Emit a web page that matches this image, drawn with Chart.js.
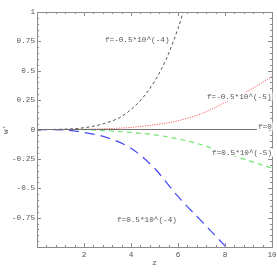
<!DOCTYPE html>
<html>
<head>
<meta charset="utf-8">
<script src="https://cdn.jsdelivr.net/npm/chart.js@4/dist/chart.umd.min.js"></script>
<style>
html,body{margin:0;padding:0;background:#fff;}
#wrap{width:277px;height:277px;}
</style>
</head>
<body>
<div id="wrap"><canvas id="c" width="277" height="277"></canvas></div>
<script>
// Data
const zBlack = [0, 0.5, 1, 1.5, 2, 2.5, 3, 3.5, 4, 4.5, 5, 5.5, 6, 6.3];
const wBlack = [0, 0, 0.002, 0.006, 0.015, 0.032, 0.06, 0.10, 0.17, 0.27, 0.41, 0.60, 0.86, 1.05];

const zRed = [0, 1, 2, 3, 4, 5, 6, 7, 8, 9, 10];
const wRed = [0, 0.0005, 0.002, 0.007, 0.018, 0.04, 0.075, 0.135, 0.23, 0.33, 0.45];

const zGreen = [0, 1, 2, 3, 4, 5, 6, 7, 8, 9, 10];
const wGreen = [0, 0, -0.002, -0.01, -0.025, -0.045, -0.08, -0.13, -0.2, -0.265, -0.33];

const zBlue = [0, 1, 2, 3, 4, 5, 6, 7, 8, 8.5];
const wBlue = [0, -0.003, -0.025, -0.07, -0.16, -0.33, -0.57, -0.78, -0.99, -1.09];

const zZero = [0, 10];
const wZero = [0, 0];

const xTickLabels = ["2", "4", "6", "8", "10"];
const xTickValues = [2, 4, 6, 8, 10];
const yTickLabels = ["1", "0.75", "0.5", "0.25", "0", "-0.25", "-0.5", "-0.75"];
const yTickValues = [1, 0.75, 0.5, 0.25, 0, -0.25, -0.5, -0.75];

const curveLabels = ["f=-0.5*10^(-4)", "f=-0.5*10^(-5)", "f=0", "f=0.5*10^(-5)", "f=0.5*10^(-4)"];

const xTitle = "z";
const yTitle = "w'";

function pts(xs, ys) { return xs.map((x, i) => ({x: x, y: ys[i]})); }

const MONO = "'Liberation Mono', 'DejaVu Sans Mono', monospace";

const framePlugin = {
  id: 'frame',
  afterDatasetsDraw(chart) {
    const ctx = chart.ctx;
    const a = chart.chartArea;
    const xs = chart.scales.x, ys = chart.scales.y;
    ctx.save();
    // frame
    ctx.strokeStyle = '#8a8a8a';
    ctx.lineWidth = 1;
    ctx.strokeRect(Math.round(a.left) + 0.5, Math.round(a.top) + 0.5,
                   Math.round(a.right - a.left), Math.round(a.bottom - a.top));
    // ticks
    ctx.beginPath();
    for (let i = 0; i <= 25; i++) {
      const v = i * 0.4;
      const px = Math.round(xs.getPixelForValue(v)) + 0.5;
      const L = (i % 5 === 0) ? 4 : 2;
      ctx.moveTo(px, a.bottom); ctx.lineTo(px, a.bottom - L);
      ctx.moveTo(px, a.top); ctx.lineTo(px, a.top + L);
    }
    for (let i = 0; i <= 40; i++) {
      const v = -1 + i * 0.05;
      const py = Math.round(ys.getPixelForValue(v)) + 0.5;
      const L = (i % 5 === 0) ? 4 : 2;
      ctx.moveTo(a.left, py); ctx.lineTo(a.left + L, py);
      ctx.moveTo(a.right, py); ctx.lineTo(a.right - L, py);
    }
    ctx.stroke();
    // tick labels
    ctx.fillStyle = '#555';
    ctx.font = '7.7px ' + MONO;
    ctx.textAlign = 'center';
    ctx.textBaseline = 'top';
    xTickValues.forEach((v, i) => {
      ctx.fillText(xTickLabels[i], xs.getPixelForValue(v), a.bottom + 4);
    });
    ctx.textAlign = 'right';
    ctx.textBaseline = 'middle';
    yTickValues.forEach((v, i) => {
      ctx.fillText(yTickLabels[i], a.left - 2, ys.getPixelForValue(v));
    });
    // axis titles
    ctx.textAlign = 'center';
    ctx.textBaseline = 'middle';
    ctx.fillText(xTitle, (a.left + a.right) / 2, a.bottom + 16);
    ctx.save();
    ctx.translate(6, ys.getPixelForValue(0));
    ctx.rotate(-Math.PI / 2);
    ctx.fillText(yTitle, 0, 0);
    ctx.restore();
    // curve labels
    const anchors = [[2.89, 0.766], [7.23, 0.28], [9.4, 0.025], [7.45, -0.196], [3.4, -0.766]];
    ctx.textAlign = 'left';
    ctx.textBaseline = 'middle';
    curveLabels.forEach((t, i) => {
      ctx.fillStyle = '#fff';
      const w = ctx.measureText(t).width;
      const px = xs.getPixelForValue(anchors[i][0]);
      const py = ys.getPixelForValue(anchors[i][1]);
      ctx.fillRect(px - 1, py - 4, w + 2, 8);
      ctx.fillStyle = '#555';
      ctx.fillText(t, px, py);
    });
    ctx.restore();
  }
};

new Chart(document.getElementById('c'), {
  type: 'scatter',
  data: {
    datasets: [
      {data: pts(zZero, wZero), borderColor: '#707070', borderWidth: 1, showLine: true, pointRadius: 0},
      {data: pts(zGreen, wGreen), borderColor: '#70e870', borderWidth: 1.2, borderDash: [5, 4], showLine: true, pointRadius: 0, cubicInterpolationMode: 'monotone'},
      {data: pts(zRed, wRed), borderColor: '#f56060', borderWidth: 1, borderDash: [1.2, 1.2], showLine: true, pointRadius: 0, cubicInterpolationMode: 'monotone'},
      {data: pts(zBlue, wBlue), borderColor: '#4646f5', borderWidth: 1.2, borderDash: [10, 6], showLine: true, pointRadius: 0, cubicInterpolationMode: 'monotone'},
      {data: pts(zBlack, wBlack), borderColor: '#555', borderWidth: 1, borderDash: [3, 2.5], showLine: true, pointRadius: 0, cubicInterpolationMode: 'monotone'}
    ]
  },
  options: {
    responsive: false,
    animation: false,
    devicePixelRatio: 1,
    layout: {padding: {left: 37, top: 12, right: 5, bottom: 30}},
    plugins: {legend: {display: false}, tooltip: {enabled: false}},
    scales: {
      x: {type: 'linear', min: 0, max: 10, display: false},
      y: {type: 'linear', min: -1, max: 1, display: false}
    }
  },
  plugins: [framePlugin]
});
</script>
</body>
</html>
